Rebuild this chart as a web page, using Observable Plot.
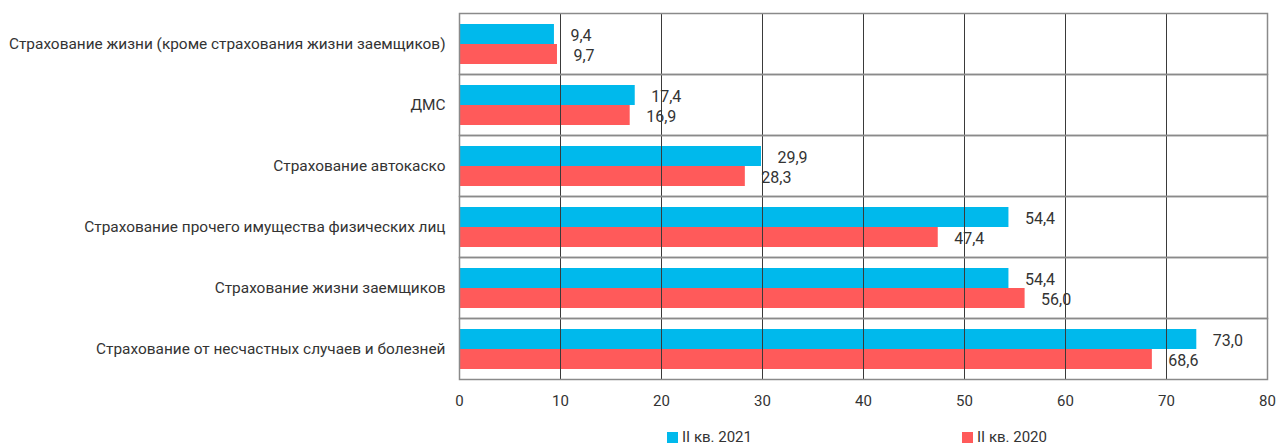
<!DOCTYPE html>
<html>
<head>
<meta charset="utf-8">
<script src="https://cdn.jsdelivr.net/npm/d3@7"></script>
<script src="https://cdn.jsdelivr.net/npm/@observablehq/plot@0.6"></script>
<style>
  body { margin: 0; background: #fff; font-family: Roboto, "Open Sans", sans-serif; }
  #wrap { position: relative; width: 1276px; height: 445px; }
  .legend { position: absolute; top: 428px; left: 0; width: 1276px; height: 17px; font-size: 15px; color: #333; }
  .item { position: absolute; display: flex; align-items: center; white-space: nowrap; }
  .sw { width: 11px; height: 11px; margin-right: 4px; }
</style>
</head>
<body>
<div id="wrap">
  <div id="chart"></div>
  <div class="legend" id="legend"></div>
</div>
<script>
// Insurance lines, top to bottom
const categories = [
  "Страхование жизни (кроме страхования жизни заемщиков)",
  "ДМС",
  "Страхование автокаско",
  "Страхование прочего имущества физических лиц",
  "Страхование жизни заемщиков",
  "Страхование от несчастных случаев и болезней"
];
const seriesNames = ["II кв. 2021", "II кв. 2020"];
const values2021 = [9.4, 17.4, 29.9, 54.4, 54.4, 73.0];
const values2020 = [9.7, 16.9, 28.3, 47.4, 56.0, 68.6];
const xTicks = [0, 10, 20, 30, 40, 50, 60, 70, 80];
const colors = ["#00B9EC", "#FF5A5A"];

const rows = [];
categories.forEach((c, i) => {
  rows.push({category: c, series: seriesNames[0], value: values2021[i]});
  rows.push({category: c, series: seriesNames[1], value: values2020[i]});
});

const fmt = v => v.toFixed(1).replace(".", ",");

const chart = Plot.plot({
  width: 1276,
  height: 420,
  marginLeft: 459,
  marginRight: 9,
  marginTop: 13,
  marginBottom: 41,
  style: {fontSize: "15px", fontFamily: "Roboto, 'Open Sans', sans-serif", color: "#333", background: "#fff"},
  x: {domain: [0, 80], ticks: xTicks, tickSize: 0, tickPadding: 16, label: null},
  y: {domain: seriesNames, axis: null, paddingInner: 0, paddingOuter: 0.52},
  fy: {domain: categories, padding: 0, axis: null},
  color: {domain: seriesNames, range: colors},
  marks: [
    Plot.barX(rows, {fy: "category", y: "series", x: "value", fill: "series"}),
    Plot.gridX(xTicks, {stroke: "#3a3a3a", strokeOpacity: 1, strokeWidth: 1}),
    Plot.frame({stroke: "#8a8a8a", strokeWidth: 1.5}),
    Plot.axisFy({anchor: "left", tickSize: 0, tickPadding: 14, label: null, fontSize: 15.4, fill: "#333"}),
    Plot.text(rows, {fy: "category", y: "series", x: "value", text: d => fmt(d.value), dx: 16, dy: 1, textAnchor: "start", fill: "#333", fontSize: 16})
  ]
});
document.getElementById("chart").appendChild(chart);

// Legend below the plot
const legend = document.getElementById("legend");
const legendX = [667, 962];
seriesNames.forEach((name, i) => {
  const item = document.createElement("div");
  item.className = "item";
  item.style.left = legendX[i] + "px";
  const sw = document.createElement("span");
  sw.className = "sw";
  sw.style.background = colors[i];
  const t = document.createElement("span");
  t.textContent = name;
  item.appendChild(sw);
  item.appendChild(t);
  legend.appendChild(item);
});
</script>
</body>
</html>
